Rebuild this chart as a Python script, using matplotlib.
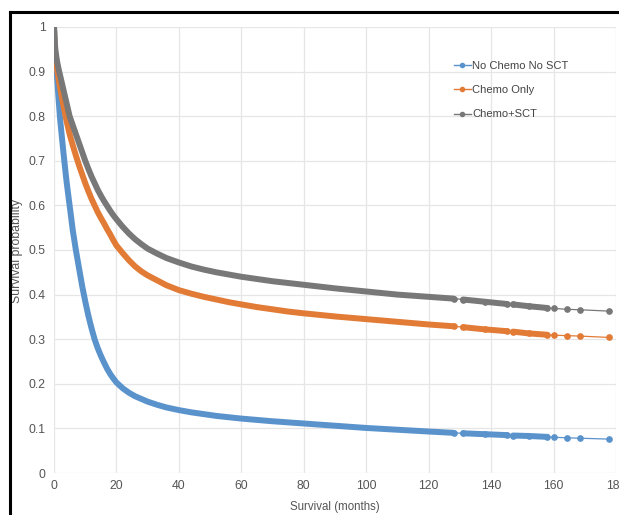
import matplotlib
matplotlib.use("Agg")
import matplotlib.pyplot as plt
import numpy as np
from matplotlib.lines import Line2D

plt.rcParams['font.family'] = ['Liberation Sans', 'DejaVu Sans']

months = [0, 0.25, 0.5, 1, 1.5, 2, 2.5, 3, 3.5, 4, 4.5, 5,
          6, 7, 8, 9, 10, 11, 12, 13, 14, 15, 16, 17, 18, 19, 20,
          22, 24, 26, 28, 30, 33, 36, 40, 44, 48, 52, 56, 60,
          65, 70, 75, 80, 90, 100, 110, 120, 128,
          131, 138, 145, 147, 152, 158, 160, 164.3, 168.4, 177.7]

no_chemo_no_sct = [1.0, 0.96, 0.93, 0.885, 0.835, 0.79, 0.755, 0.72, 0.687, 0.655, 0.627, 0.60,
                   0.545, 0.50, 0.46, 0.42, 0.385, 0.353, 0.325, 0.30, 0.28, 0.263, 0.248, 0.234,
                   0.222, 0.212, 0.203,
                   0.19, 0.18, 0.172, 0.166, 0.160, 0.153, 0.147, 0.141, 0.136, 0.132, 0.128,
                   0.125, 0.122,
                   0.119, 0.116, 0.1135, 0.111, 0.106, 0.101, 0.097, 0.093, 0.090,
                   0.089, 0.087, 0.085, 0.084, 0.083, 0.081, 0.080, 0.079, 0.078, 0.076]

chemo_only = [1.0, 0.95, 0.93, 0.905, 0.882, 0.862, 0.843, 0.825, 0.807, 0.79, 0.775, 0.76,
              0.735, 0.712, 0.69, 0.67, 0.65, 0.632, 0.615, 0.60, 0.585, 0.572, 0.56, 0.547,
              0.535, 0.522, 0.51,
              0.493, 0.477, 0.463, 0.452, 0.443, 0.432, 0.421, 0.410, 0.402, 0.395, 0.389,
              0.383, 0.378,
              0.372, 0.367, 0.362, 0.358, 0.351, 0.345, 0.339, 0.333, 0.329,
              0.327, 0.322, 0.318, 0.317, 0.313, 0.310, 0.309, 0.308, 0.307, 0.304]

chemo_sct = [1.0, 0.965, 0.945, 0.922, 0.905, 0.89, 0.875, 0.86, 0.845, 0.83, 0.815, 0.80,
             0.78, 0.76, 0.74, 0.72, 0.70, 0.682, 0.665, 0.65, 0.635, 0.622, 0.61, 0.599,
             0.588, 0.578, 0.569,
             0.552, 0.537, 0.524, 0.513, 0.503, 0.492, 0.482, 0.472, 0.463, 0.456, 0.450,
             0.445, 0.440,
             0.435, 0.430, 0.426, 0.422, 0.414, 0.407, 0.400, 0.395, 0.391,
             0.389, 0.384, 0.379, 0.378, 0.374, 0.370, 0.369, 0.367, 0.366, 0.363]

labels = ["No Chemo No SCT", "Chemo Only", "Chemo+SCT"]
colors = ["#5A93CC", "#E27B36", "#787878"]

# stretches where the censoring marks are so dense they merge into a band
dense_ranges = [(0, 128.5), (130.5, 145.5), (146.5, 158.5)]

fig = plt.figure(figsize=(6.19, 5.15), dpi=100)
ax = fig.add_axes([54 / 619, 42 / 515, 562 / 619, 446 / 515])

t = np.array(months)
for series, color in zip([no_chemo_no_sct, chemo_only, chemo_sct], colors):
    s = np.array(series)
    ax.plot(t, s, color=color, lw=0.9, zorder=3)
    tail = t >= 128
    ax.plot(t[tail], s[tail], linestyle="none", marker='o', ms=3.8,
            color=color, zorder=3)
    for lo, hi in dense_ranges:
        m = (t >= lo) & (t <= hi)
        ax.plot(t[m], s[m], color=color, lw=4.3, solid_capstyle='round',
                solid_joinstyle='round', zorder=3)

ax.set_xlim(0, 180)
ax.set_ylim(0, 1)
ax.set_xticks(np.arange(0, 181, 20))
ax.set_yticks(np.arange(0, 1.01, 0.1))
ax.set_yticklabels(["0", "0.1", "0.2", "0.3", "0.4", "0.5", "0.6", "0.7", "0.8", "0.9", "1"])
ax.grid(True, color="#e6e6e6", lw=0.9, zorder=0)
ax.set_axisbelow(True)
for sp in ax.spines.values():
    sp.set_visible(False)
ax.tick_params(length=0, labelsize=8.8, labelcolor="#555555")
ax.tick_params(axis='y', pad=6)
ax.tick_params(axis='x', pad=5)

ax.set_xlabel("Survival (months)", fontsize=8.3, color="#555555")
ax.set_ylabel("Survival probability", fontsize=8.8, color="#555555")
ax.xaxis.set_label_coords(0.5, -0.062)
ax.yaxis.set_label_coords(-0.056, 0.497)

handles = [Line2D([0], [0], color=c, lw=1, marker='o', ms=3) for c in colors]
ax.legend(handles, labels, loc="upper left", bbox_to_anchor=(448 / 619, 1 - 55 / 515),
          bbox_transform=fig.transFigure, frameon=False, fontsize=8,
          handlelength=1.6, handletextpad=0.1, labelspacing=1.3, borderpad=0,
          labelcolor="#444444")

# black frame around the (cropped) picture
fig.add_artist(Line2D([10 / 619, 1], [1 - 12 / 515, 1 - 12 / 515], color="black",
                      lw=2.2, transform=fig.transFigure))
fig.add_artist(Line2D([10 / 619, 10 / 619], [0, 1 - 12 / 515], color="black",
                      lw=2.2, transform=fig.transFigure))

fig.savefig("out.png", dpi=100)
